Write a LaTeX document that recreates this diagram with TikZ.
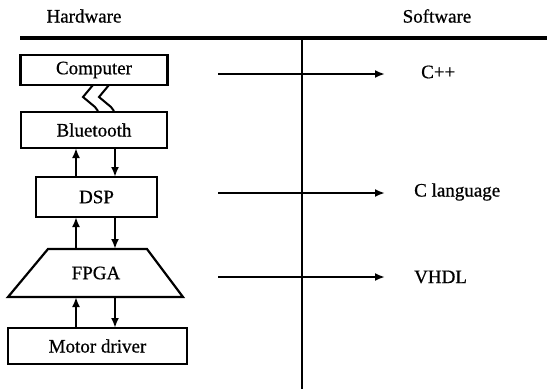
\documentclass[tikz,border=0pt]{standalone}
\usepackage{fontspec}
\setmainfont{Liberation Serif}
\newfontfamily\thkfont{Liberation Serif}[FakeBold=0.7]
\usetikzlibrary{arrows.meta}
\begin{document}
\begin{tikzpicture}[x=1pt,y=-1pt,
  box/.style={draw,line width=2.2pt,inner sep=0pt,font=\thkfont\fontsize{19}{21}\selectfont},
  lbl/.style={font=\thkfont\fontsize{19}{21}\selectfont,inner sep=0pt},
  conn/.style={line width=2.2pt,-{Latex[length=10pt,width=8pt]}}]
\useasboundingbox (0,0) rectangle (547,389);
\node[lbl] (hw) at (84,16) {Hardware};
\node[lbl] (sw) at (437,16) {Software};
\coordinate (tl) at (20,38);
\coordinate (tr) at (547,38);
\draw[line width=4pt] (tl) -- (tr);
\coordinate (vt) at (302,38);
\coordinate (vb) at (302,389);
\draw[line width=2.2pt] (vt) -- (vb);
% boxes
\node[box,minimum width=147pt,minimum height=30pt] (comp) at (94,70) {Computer};
\node[box,minimum width=146pt,minimum height=36pt] (bt) at (94,130) {Bluetooth};
\node[box,minimum width=121pt,minimum height=40pt] (dsp) at (96.5,197) {DSP};
\draw[line width=2.2pt] (48,249) -- (147,249) -- (183,297) -- (8,297) -- cycle;
\node[lbl] (fpga) at (96,273) {FPGA};
\node[box,minimum width=179pt,minimum height=36pt] (mot) at (97.5,346) {Motor driver};
% squiggles
\draw[line width=2pt] (93,85) -- (83,97) -- (95,107) -- (98,111);
\draw[line width=2pt] (109,85) -- (99,97) -- (111,107) -- (114,111);
% vertical arrows
\draw[conn] (76,177) -- (76,148);
\draw[conn] (115,148) -- (115,177);
\draw[conn] (76,249) -- (76,217);
\draw[conn] (115,217) -- (115,249);
\draw[conn] (76,328) -- (76,297);
\draw[conn] (115,297) -- (115,328);
% right arrows
\node[lbl,anchor=west] (cpp) at (421,72) {C++};
\node[lbl,anchor=west] (cl) at (414,192) {C language};
\node[lbl,anchor=west] (vhdl) at (414,277) {VHDL};
\coordinate (a1) at (218,74);
\coordinate (a2) at (218,193);
\coordinate (a3) at (218,277);
\draw[conn] (a1) -- (385,74);
\draw[conn] (a2) -- (385,193);
\draw[conn] (a3) -- (385,277);
\end{tikzpicture}
\end{document}
